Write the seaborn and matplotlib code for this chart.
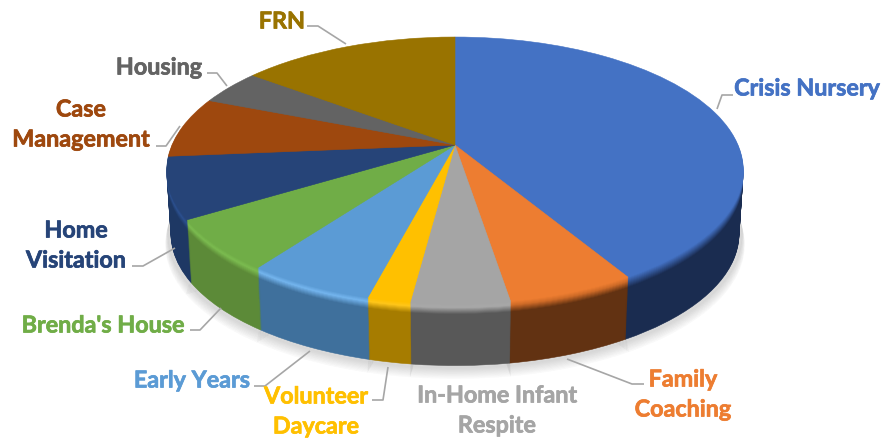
import numpy as np
import matplotlib
matplotlib.use('Agg')
import matplotlib.pyplot as plt
import matplotlib.colors as mcolors
import matplotlib.patheffects as pe
from matplotlib.path import Path
from matplotlib.transforms import Transform
import seaborn as sns

programs = ['Crisis Nursery', 'Family\nCoaching', 'In-Home Infant\nRespite', 'Volunteer\nDaycare',
            'Early Years', "Brenda's House", 'Home\nVisitation', 'Case\nManagement', 'Housing', 'FRN']
shares = [41.5, 6.0, 4.6, 2.0, 6.0, 6.2, 7.4, 7.4, 4.3, 14.7]
face_colors = ['#4472C4', '#ED7D31', '#A5A5A5', '#FFC000', '#5B9BD5',
               '#70AD47', '#264478', '#9E480E', '#636363', '#997300']
rim_colors = ['#35599C', '#D06C28', '#A8A8A8', '#FFC61A', '#74B5EE',
              '#7CBC50', '#2C5190', '#9E480E', '#636363', '#997300']
wall_colors = ['#1A2C50', '#623212', '#585858', '#A67C00', '#3F709C',
               '#5C8A38', '#1E3864', '#9E480E', '#636363', '#997300']

sns.set_theme(style='white')
plt.rcParams['font.family'] = ['Lato', 'DejaVu Sans']

# centre of the pie on the picture and the perspective of the tilted disc
CX, CY = 455, 146
A, B, K = 283, 128.6, 0.191
DEPTH = 64


class Tilt(Transform):
    input_dims = 2
    output_dims = 2

    def __init__(self, drop=0, scale=1.0):
        super().__init__()
        self.drop = drop
        self.scale = scale

    def transform_non_affine(self, values):
        u, v = values[:, 0], values[:, 1]
        w = 1 + K * v
        return np.column_stack([CX + self.scale * A * u / w,
                                CY - self.scale * B * v / w + self.drop])

    def transform_path_non_affine(self, path):
        return Path(self.transform_non_affine(path.vertices), path.codes)


def layer(ax, colors, drop=0, scale=1.0, alpha=None):
    wedges, _ = ax.pie(shares, colors=colors, startangle=90, counterclock=False,
                       wedgeprops={'linewidth': 0.4, 'alpha': alpha})
    for w in wedges:
        w.set_edgecolor(w.get_facecolor())
        w.set_transform(Tilt(drop, scale) + ax.transData)
        w.set_clip_on(False)


def blend(c1, c2, t):
    a, b = np.array(mcolors.to_rgb(c1)), np.array(mcolors.to_rgb(c2))
    return tuple(a + (b - a) * t)


fig, ax = plt.subplots(figsize=(8.83, 4.39), dpi=100)
fig.subplots_adjust(0, 0, 1, 1)

# soft shadow under the disc
for i in range(10):
    layer(ax, ['#808080'] * len(shares), drop=DEPTH + 10 - i, scale=1.004 - 0.001 * i, alpha=0.03)

# side wall, bottom layer first, then the bevel up to the top face
for d in range(DEPTH, 0, -1):
    if d > 11:
        cols = wall_colors
    elif d > 4:
        cols = [blend(r, w, (d - 4) / 7) for r, w in zip(rim_colors, wall_colors)]
    else:
        cols = [blend(f, r, d / 4) for f, r in zip(face_colors, rim_colors)]
    layer(ax, cols, drop=d, scale=1 - 0.015 * d / DEPTH)

layer(ax, face_colors)

# leader lines
leaders = [[(733, 96), (722, 96), (717, 110)],
           [(307, 27), (318, 27), (346, 45)],
           [(207, 74), (217, 74), (227, 87)],
           [(156, 147), (166, 147), (180, 127)],
           [(132, 267), (143, 267), (175, 249)],
           [(190, 331), (200, 331), (221, 309)],
           [(254, 387), (265, 387), (310, 352)],
           [(372, 401), (383, 401), (388, 368)],
           [(644, 385), (632, 385), (567, 360)]]
for pts in leaders:
    xs, ys = zip(*pts)
    ax.plot(xs, ys, color='#A6A6A6', lw=1.2, solid_capstyle='butt')

label_pos = [(807, 90), (683, 396), (497, 412), (316, 413), (192, 382),
             (103, 327), (76, 247), (81, 126), (159, 69), (282, 23)]
for name, pos, col in zip(programs, label_pos, face_colors):
    ax.text(pos[0], pos[1], name, color=col, fontsize=16.8, fontweight='bold',
            ha='center', va='center', linespacing=1.53,
            path_effects=[pe.withStroke(linewidth=0.5, foreground=col)])

ax.set_aspect('auto')
ax.set_xlim(0, 883)
ax.set_ylim(439, 0)
ax.axis('off')
fig.savefig('out.png', dpi=100)
